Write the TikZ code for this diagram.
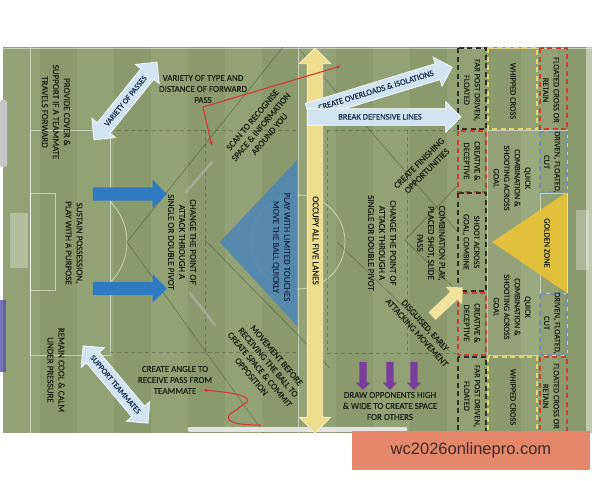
\documentclass[tikz,border=0pt]{standalone}
\usepackage{fontspec}
\setmainfont{Carlito}
\newfontfamily\inkfont{Carlito}[FakeBold=0.45]
\newfontfamily\sitefont{Liberation Sans}
\usetikzlibrary{arrows.meta,shapes.arrows}

\definecolor{turfA}{HTML}{8B9A6D}
\definecolor{turfB}{HTML}{93A275}
\definecolor{ink}{HTML}{1D2117}
\definecolor{navy}{HTML}{1A2F4D}
\definecolor{sky}{HTML}{D2E4F2}
\definecolor{push}{HTML}{2E7BC2}
\definecolor{wedge}{HTML}{4E86B3}
\definecolor{lemon}{HTML}{EEDD8C}
\definecolor{gold}{HTML}{E7C337}
\definecolor{plum}{HTML}{7A3D9E}
\definecolor{runred}{HTML}{D33A2A}
\definecolor{zred}{HTML}{C8402F}
\definecolor{zyel}{HTML}{E6D466}
\definecolor{zblue}{HTML}{6E92B4}
\definecolor{zblack}{HTML}{2E3128}
\definecolor{banner}{HTML}{E5876A}
\definecolor{sitetext}{HTML}{3D2B2B}

\begin{document}
\begin{tikzpicture}[x=1pt,y=-1pt,
    lbl/.style={font=\inkfont\fontsize{9}{11}\selectfont,text=ink,align=center,inner sep=0pt},
    vlbl/.style={lbl,rotate=-90},
    zlbl/.style={font=\inkfont\fontsize{8.3}{10.5}\selectfont,text=ink,align=center,inner sep=0pt,rotate=-90},
    chalk/.style={white,opacity=.5,line width=.9pt},
    faint/.style={black,opacity=.28,line width=.6pt},
    halfspace/.style={black,opacity=.22,line width=.7pt,dash pattern=on 4pt off 3pt},
    zonebox/.style={line width=1.3pt,dash pattern=on 5pt off 3.5pt},
    runline/.style={runred,line width=1.1pt},
    skyarrow/.style={single arrow,fill=sky,draw=white,line width=.7pt,
        single arrow head extend=7pt,inner xsep=1pt,inner ysep=4.5pt,
        text height=6pt,text depth=1pt,font=\inkfont\fontsize{8.5}{10}\selectfont,text=navy},
    skydouble/.style={double arrow,fill=sky,draw=white,line width=.7pt,
        double arrow head extend=7pt,inner xsep=0pt,inner ysep=4.5pt,
        text height=6pt,text depth=1pt,font=\inkfont\fontsize{8}{10}\selectfont,text=navy},
    pusharrow/.style={single arrow,fill=push,minimum height=74pt,inner sep=0pt,
        inner ysep=6.5pt,text height=0pt,text depth=0pt,single arrow head extend=7.5pt},
    plumarrow/.style={single arrow,fill=plum,rotate=-90,minimum height=28pt,inner sep=0pt,
        inner ysep=3.5pt,text height=0pt,text depth=0pt,single arrow head extend=3.5pt},
    lanearrow/.style={double arrow,fill=lemon,draw=lemon!55!white,line width=.8pt,rotate=-90,
        minimum height=385pt,double arrow head extend=8pt,inner xsep=0pt,inner ysep=3.5pt,
        text height=6pt,text depth=1.5pt,font=\inkfont\fontsize{9}{11}\selectfont,text=ink}]

    \useasboundingbox (0,0) rectangle (600,480);
    \fill[white] (0,0) rectangle (600,480);

    % pitch and stripes
    \fill[turfA] (3,47) rectangle (592,433);
    \foreach \i in {0,2,...,14}
        \fill[turfB] ({3+37*\i},47) rectangle ({3+37*(\i+1)},433);
    \fill[gray!45,rounded corners=2pt] (0,100) rectangle (7,167);
    \fill[blue!35!gray,opacity=.8] (0,300) rectangle (6,372);
    \fill[white,opacity=.45] (586,47) rectangle (592,433);

    % markings
    \draw[chalk] (3,48) -- (592,48);
    \draw[chalk] (30,47) -- (30,433);
    \draw[chalk] (30,130) rectangle (110,355);
    \draw[chalk] (30,193) rectangle (55,290);
    \begin{scope}
        \clip (110,47) rectangle (200,433);
        \draw[chalk] (70,242) circle (57);
    \end{scope}
    \draw[chalk] (298,47) -- (298,433);
    \draw[chalk] (298,242) circle (47);
    \draw[chalk] (487,130) rectangle (567,355);
    \draw[chalk] (540,193) rectangle (567,293);
    \fill[white,opacity=.3] (10,213) rectangle (28,268);
    \fill[white,opacity=.3] (576,210) rectangle (589,270);
    \fill[white,opacity=.08] (487,130) rectangle (540,355);

    % channels
    \draw[faint] (127,242) -- (283,47);
    \draw[faint] (127,242) -- (264,433);
    \draw[faint] (205,240) -- (330,368);
    \draw[faint] (300,50) -- (458,232);
    \draw[faint] (337,242) -- (450,352);
    \draw[faint] (405,240) -- (458,185);
    \draw[faint] (405,240) -- (458,292);
    \draw[halfspace] (110,130) -- (298,130);
    \draw[halfspace] (110,352) -- (298,352);
    \draw[halfspace] (205,130) -- (205,352);
    \draw[halfspace] (327,130) -- (458,130);
    \draw[halfspace] (327,353) -- (458,353);
    \draw[halfspace] (327,130) -- (327,353);
    \draw[halfspace] (407,130) -- (407,353);
    \draw[gray!60,opacity=.7,line width=2.5pt,line cap=round] (186,192) -- (212,162);
    \draw[gray!60,opacity=.7,line width=2.5pt,line cap=round] (190,293) -- (215,325);
    \draw[gray!22,line width=5pt,line cap=round] (190,429) -- (405,429);

    % wedges
    \fill[wedge,opacity=.88] (220,242) -- (297,160) -- (297,326) -- cycle;
    \fill[gold,opacity=.92] (492,242) -- (567,192) -- (567,293) -- cycle;

    % finishing zones
    \draw[zonebox,zblack] (458,48) rectangle (486,129);
    \draw[zonebox,zred] (458,131) rectangle (486,192);
    \draw[zonebox,zblack] (458,193) rectangle (486,291);
    \draw[zonebox,zred] (458,293) rectangle (486,355);
    \draw[zonebox,zblack] (458,357) rectangle (486,432);
    \draw[zonebox,zyel] (488,48) rectangle (537,129);
    \draw[zonebox,zyel] (488,357) rectangle (537,432);
    \draw[zonebox,zred] (540,48) rectangle (567,129);
    \draw[zonebox,zblue] (540,132) rectangle (567,192);
    \draw[zonebox,zblue] (540,294) rectangle (567,355);
    \draw[zonebox,zred] (540,357) rectangle (567,432);

    % arrows
    \node[lanearrow] (lanes) at (315,240.5) {OCCUPY ALL FIVE LANES};
    \node[pusharrow] (pushTop) at (126.5,194) {};
    \node[pusharrow] (pushLow) at (126.5,288.5) {};
    \node[skydouble,rotate=51,minimum height=100pt] (passes) at (125.5,101) {VARIETY OF PASSES};
    \node[skydouble,rotate=-50,minimum height=101pt] (support) at (115.5,384.5) {SUPPORT TEAMMATES};
    \node[skyarrow,rotate=17,minimum height=151pt] (overload) at (376,90.5) {CREATE OVERLOADS \& ISOLATIONS};
    \node[skyarrow,minimum height=154pt] (breaklines) at (380,117) {BREAK DEFENSIVE LINES};
    \node[single arrow,fill=lemon!85!white,rotate=43,minimum height=42pt,inner sep=0pt,
        inner ysep=5pt,text height=0pt,text depth=0pt,single arrow head extend=7pt] (late) at (445.5,303.5) {};
    \foreach \px/\nm in {363/pullA,390/pullB,414/pullC}
        \node[plumarrow] (\nm) at (\px,374) {};

    % labels
    \node[vlbl] (cover) at (56,112) {PROVIDE COVER \&\\SUPPORT IF A TEAMMATE\\TRAVELS FORWARD};
    \node[vlbl] (sustain) at (74,243) {SUSTAIN POSSESSION,\\PLAY WITH A PURPOSE};
    \node[vlbl] (cool) at (56,370) {REMAIN COOL \& CALM\\UNDER PRESSURE};
    \node[lbl] (variety) at (203,89) {VARIETY OF TYPE AND\\DISTANCE OF FORWARD\\PASS};
    \node[lbl,rotate=50] (scan) at (261,127) {SCAN TO RECOGNISE\\SPACE \& INFORMATION\\AROUND YOU};
    \node[vlbl] (pivotL) at (182,242) {CHANGE THE POINT OF\\ATTACK THROUGH A\\SINGLE OR DOUBLE PIVOT};
    \node[vlbl,text=navy] (touches) at (281,247) {PLAY WITH LIMITED TOUCHES\\MOVE THE BALL QUICKLY};
    \node[lbl,rotate=-50] (movement) at (264,366) {MOVEMENT BEFORE\\RECEIVING THE BALL TO\\CREATE SPACE \& COMMIT\\OPPOSITION};
    \node[lbl] (angle) at (175,380) {CREATE ANGLE TO\\RECEIVE PASS FROM\\TEAMMATE};
    \node[lbl,rotate=45] (finish) at (423,167) {CREATE FINISHING\\OPPORTUNITIES};
    \node[vlbl] (pivotR) at (382,243) {CHANGE THE POINT OF\\ATTACK THROUGH A\\SINGLE OR DOUBLE PIVOT};
    \node[vlbl] (combo) at (431,243) {COMBINATION PLAY,\\PLACED SHOT, SLIDE\\PASS};
    \node[lbl,rotate=-48] (disguise) at (421,329) {DISGUISED, EARLY\\ATTACKING MOVEMENT};
    \node[lbl] (opponents) at (390,406) {DRAW OPPONENTS HIGH\\\& WIDE TO CREATE SPACE\\FOR OTHERS};

    % zone labels
    \node[zlbl] (farTop) at (472,90) {FAR POST DRIVEN,\\FLOATED};
    \node[zlbl] (whipTop) at (513,91) {WHIPPED CROSS};
    \node[zlbl] (retainTop) at (551,90) {FLOATED CROSS OR\\RETAIN};
    \node[zlbl] (creativeTop) at (472,161) {CREATIVE \&\\DECEPTIVE};
    \node[zlbl] (cutTop) at (552,162) {DRIVEN, FLOATED,\\CUT};
    \node[zlbl] (quickTop) at (512,178) {QUICK\\COMBINATION \&\\SHOOTING ACROSS\\GOAL};
    \node[zlbl] (shoot) at (471,242) {SHOOT ACROSS\\GOAL, COMBINE};
    \node[zlbl] (golden) at (547,243) {GOLDEN ZONE};
    \node[zlbl] (quickLow) at (512,307) {QUICK\\COMBINATION \&\\SHOOTING ACROSS\\GOAL};
    \node[zlbl] (creativeLow) at (472,323) {CREATIVE \&\\DECEPTIVE};
    \node[zlbl] (cutLow) at (552,323) {DRIVEN, FLOATED,\\CUT};
    \node[zlbl] (farLow) at (472,396) {FAR POST DRIVEN,\\FLOATED};
    \node[zlbl] (whipLow) at (513,397) {WHIPPED CROSS};
    \node[zlbl] (retainLow) at (551,396) {FLOATED CROSS OR\\RETAIN};

    % runs
    \coordinate (scanTip) at (341,66);
    \coordinate (scanBend) at (203,107);
    \coordinate (scanEnd) at (212,146);
    \draw[runline,{Stealth[length=5pt]}-{Stealth[length=5pt]}] (scanTip) -- (scanBend) -- (scanEnd);
    \coordinate (angleStart) at (261,425);
    \coordinate (angleEnd) at (203,390);
    \draw[runline,-{Stealth[length=5pt]}] (angleStart) .. controls (245,425) and (224,424) .. (229,415)
        -- (247,402) .. controls (250,397) and (240,393) .. (angleEnd);

    \node[fill=banner,minimum width=238pt,minimum height=39pt,inner sep=0pt,
        font=\sitefont\fontsize{16.5}{18}\selectfont,text=sitetext] (site) at (471,450.5) {wc2026onlinepro.com};
\end{tikzpicture}
\end{document}
